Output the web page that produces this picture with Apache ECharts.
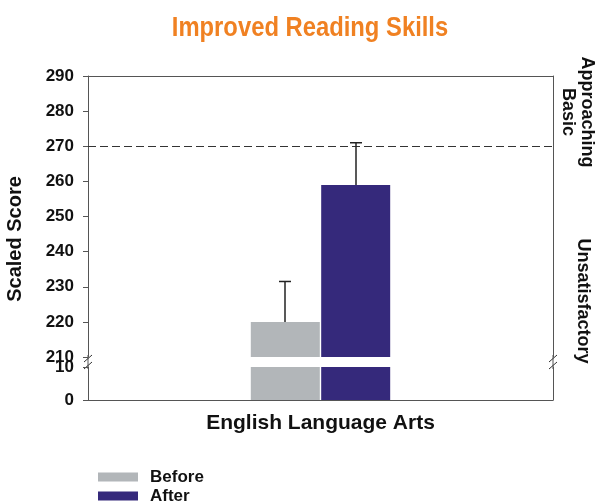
<!DOCTYPE html>
<html lang="en">
<head>
    <meta charset="UTF-8">
    <title>Improved Reading Skills</title>
    <style>
        body { margin: 0; background: #fff; }
    </style>
</head>
<body>
<div id="main" style="width: 595px;height:504px;"></div>
<script src="https://cdn.jsdelivr.net/npm/echarts@6/dist/echarts.min.js"></script>
<script>
    // data
    var categories = ['English Language Arts'];
    var seriesNames = ['Before', 'After'];
    var beforeScore = [220];
    var afterScore = [259];
    var beforeUpper = [231.5];
    var afterUpper = [271];
    var cutScore = 270;
    var upperRange = [210, 290];
    var lowerRange = [0, 10];
    var bandLabels = ['Approaching\nBasic', 'Unsatisfactory'];

    var FONT = '"Liberation Sans", Arial, sans-serif';
    var gray = '#b2b6b9';
    var purple = '#35297b';
    var axisColor = '#555';
    var barW = 69;

    var myChart = echarts.init(document.getElementById('main'));

    var labelStyle = { fontFamily: FONT, fontWeight: 'bold', fontSize: 17, color: '#111' };

    // axis break marks (//) drawn on the left and right axes
    function breakMarks(x) {
        return [
            { type: 'line', shape: { x1: x, y1: 355, x2: x, y2: 369 }, style: { stroke: axisColor, lineWidth: 1 } },
            { type: 'line', shape: { x1: x - 4, y1: 362, x2: x + 4, y2: 355 }, style: { stroke: '#333', lineWidth: 1 } },
            { type: 'line', shape: { x1: x - 4, y1: 369, x2: x + 4, y2: 362 }, style: { stroke: '#333', lineWidth: 1 } }
        ];
    }

    var option = {
        backgroundColor: '#fff',
        animation: false,
        legend: {
            data: seriesNames,
            orient: 'vertical',
            left: 98,
            top: 468,
            height: 40,
            icon: 'rect',
            itemWidth: 40,
            itemHeight: 9,
            itemGap: 1,
            padding: 0,
            textStyle: { fontFamily: FONT, fontWeight: 'bold', fontSize: 17, lineHeight: 18, color: '#111', padding: [0, 0, 0, 7] }
        },
        grid: [
            { left: 88, right: 42, top: 76, height: 281 },
            { left: 88, right: 42, top: 367, height: 33 }
        ],
        xAxis: [
            { gridIndex: 0, type: 'category', data: categories, axisLine: { show: false }, axisTick: { show: false }, axisLabel: { show: false } },
            { gridIndex: 0, type: 'category', data: categories, position: 'top', axisLine: { lineStyle: { color: axisColor } }, axisTick: { show: false }, axisLabel: { show: false } },
            { gridIndex: 1, type: 'category', data: categories, axisLine: { lineStyle: { color: axisColor } }, axisTick: { show: false },
                axisLabel: { margin: 13, fontFamily: FONT, fontWeight: 'bold', fontSize: 21, color: '#111' } }
        ],
        yAxis: [
            { gridIndex: 0, type: 'value', min: upperRange[0], max: upperRange[1], interval: 10,
                axisLine: { show: true, lineStyle: { color: axisColor } },
                axisTick: { show: true, length: 5, lineStyle: { color: axisColor } },
                axisLabel: Object.assign({ margin: 14 }, labelStyle),
                splitLine: { show: false } },
            { gridIndex: 0, type: 'value', position: 'right', min: upperRange[0], max: upperRange[1],
                axisLine: { show: true, lineStyle: { color: axisColor } }, axisTick: { show: false }, axisLabel: { show: false }, splitLine: { show: false } },
            { gridIndex: 1, type: 'value', min: lowerRange[0], max: lowerRange[1], interval: 10,
                axisLine: { show: true, lineStyle: { color: axisColor } },
                axisTick: { show: true, length: 5, lineStyle: { color: axisColor } },
                axisLabel: Object.assign({ margin: 14 }, labelStyle),
                splitLine: { show: false } },
            { gridIndex: 1, type: 'value', position: 'right', min: lowerRange[0], max: lowerRange[1],
                axisLine: { show: true, lineStyle: { color: axisColor } }, axisTick: { show: false }, axisLabel: { show: false }, splitLine: { show: false } }
        ],
        series: [
            {
                name: 'Before', type: 'bar', xAxisIndex: 0, yAxisIndex: 0, data: beforeScore,
                barWidth: barW, barGap: '2%', itemStyle: { color: gray },
                markLine: {
                    silent: true, symbol: 'none', label: { show: false },
                    lineStyle: { color: '#333', type: [8, 4], width: 1 },
                    data: [{ yAxis: cutScore }]
                }
            },
            { name: 'After', type: 'bar', xAxisIndex: 0, yAxisIndex: 0, data: afterScore,
                barWidth: barW, barGap: '2%', itemStyle: { color: purple } },
            { name: 'Before', type: 'bar', xAxisIndex: 2, yAxisIndex: 2, data: beforeScore,
                barWidth: barW, barGap: '2%', itemStyle: { color: gray } },
            { name: 'After', type: 'bar', xAxisIndex: 2, yAxisIndex: 2, data: afterScore,
                barWidth: barW, barGap: '2%', itemStyle: { color: purple } },
            {
                // upper error bars
                type: 'custom', xAxisIndex: 0, yAxisIndex: 0, z: 5,
                data: [[0, beforeScore[0], beforeUpper[0], -1], [0, afterScore[0], afterUpper[0], 1]],
                renderItem: function (params, api) {
                    var lo = api.coord([api.value(0), api.value(1)]);
                    var hi = api.coord([api.value(0), api.value(2)]);
                    var x = Math.round(lo[0] + api.value(3) * (barW * 1.02) / 2);
                    var st = { stroke: '#222', lineWidth: 1.5 };
                    return {
                        type: 'group',
                        children: [
                            { type: 'line', shape: { x1: x, y1: lo[1], x2: x, y2: hi[1] }, style: st },
                            { type: 'line', shape: { x1: x - 6, y1: hi[1], x2: x + 6, y2: hi[1] }, style: st }
                        ]
                    };
                }
            }
        ],
        graphic: [
            { type: 'text', x: 310, y: 28, scaleX: 0.85,
                style: { text: 'Improved Reading Skills', fontFamily: FONT, fontWeight: 'bold', fontSize: 28, fill: '#f08122', align: 'center', verticalAlign: 'middle' } },
            { type: 'text', x: 15, y: 239, rotation: Math.PI / 2,
                style: { text: 'Scaled Score', fontFamily: FONT, fontWeight: 'bold', fontSize: 20, fill: '#111', align: 'center', verticalAlign: 'middle' } },
            { type: 'text', x: 577, y: 112, rotation: -Math.PI / 2,
                style: { text: bandLabels[0], fontFamily: FONT, fontWeight: 'bold', fontSize: 18, lineHeight: 19, fill: '#111', align: 'center', verticalAlign: 'middle' } },
            { type: 'text', x: 583, y: 301, rotation: -Math.PI / 2,
                style: { text: bandLabels[1], fontFamily: FONT, fontWeight: 'bold', fontSize: 18, fill: '#111', align: 'center', verticalAlign: 'middle' } }
        ].concat(breakMarks(88), breakMarks(553))
    };

    myChart.setOption(option);
</script>
</body>
</html>
